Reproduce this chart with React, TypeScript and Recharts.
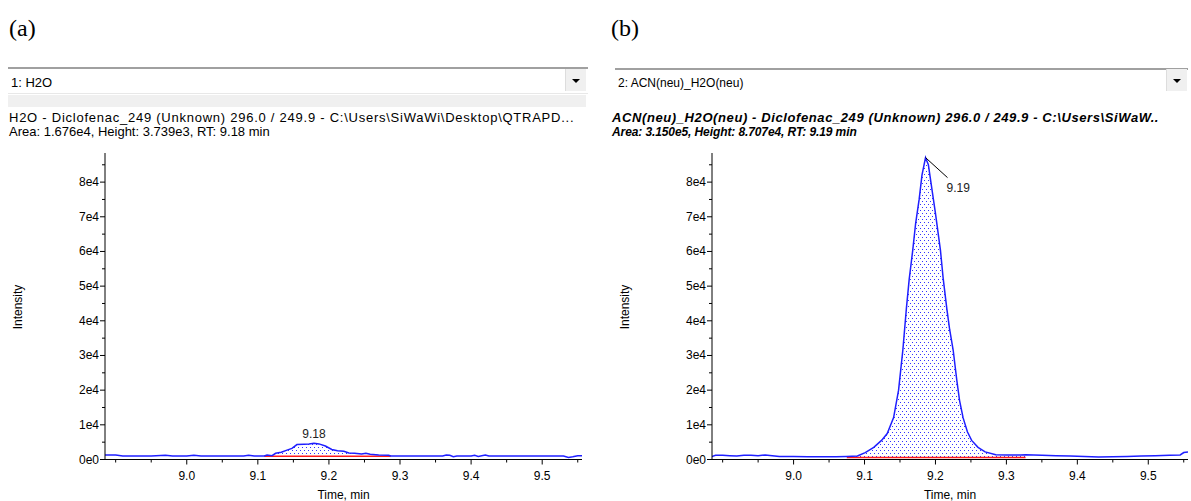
import React from "react";
import { ComposedChart, Line, Area, XAxis, YAxis, ReferenceDot } from "recharts";

const h2oTimes = [
  8.885, 8.9, 8.91, 8.93, 8.95, 8.97, 8.98, 9.0, 9.01, 9.02, 9.04, 9.06, 9.08, 9.087, 9.095,
  9.109, 9.113, 9.12, 9.125, 9.133, 9.141, 9.148, 9.155, 9.165, 9.172, 9.179, 9.186, 9.195,
  9.204, 9.212, 9.221, 9.228, 9.236, 9.246, 9.252, 9.258, 9.27, 9.284, 9.287, 9.3, 9.33,
  9.36, 9.365, 9.37, 9.375, 9.38, 9.4, 9.405, 9.41, 9.42, 9.425, 9.45, 9.5, 9.53, 9.537,
  9.543, 9.55, 9.556,
];
const h2oIntensity = [
  1300, 1300, 1000, 1000, 1000, 1200, 1000, 1000, 1200, 1000, 1000, 1000, 1000, 1200, 1000,
  1000, 1300, 1100, 1800, 2100, 2700, 3200, 4300, 4400, 4500, 4700, 4500, 3900,
  2900, 2500, 2400, 1900, 1800, 1600, 1800, 1500, 1300, 1200, 1000, 1000, 1000,
  1000, 1300, 1200, 800, 1000, 1000, 1200, 900, 1300, 1000, 1000, 1000, 1000, 600,
  800, 1100, 1100,
];

const acnTimes = [
  8.884, 8.89, 8.9, 8.91, 8.92, 8.93, 8.94, 8.95, 8.96, 8.97, 8.98, 9.0, 9.02, 9.04, 9.06,
  9.075, 9.09, 9.101, 9.113, 9.124, 9.132, 9.141, 9.148, 9.154, 9.159, 9.163, 9.168, 9.172,
  9.177, 9.181, 9.186, 9.19, 9.195, 9.2, 9.207, 9.211, 9.216, 9.22, 9.225, 9.23, 9.234,
  9.239, 9.245, 9.251, 9.26, 9.27, 9.285, 9.3, 9.32, 9.327, 9.35, 9.37, 9.39, 9.41, 9.43,
  9.45, 9.47, 9.49, 9.51, 9.53, 9.545, 9.55, 9.556,
];
const acnIntensity = [
  800, 1200, 1200, 1100, 1000, 1200, 1200, 1100, 1300, 1100, 900, 900, 800, 800, 800,
  900, 1000, 2000, 3500, 5500, 7500, 12100, 20000, 31500, 43500, 52000, 60400, 68000,
  75000, 82000, 87070, 85000, 78000, 71000, 60400, 52000, 43500, 37500, 31500, 23000, 17000,
  12000, 8000, 5500, 3500, 2200, 1400, 1300, 1300, 1400, 1200, 1100, 1000, 900, 700,
  800, 900, 1000, 1100, 1200, 1300, 2000, 2200,
];

const yTicks = [0, 5000, 10000, 15000, 20000, 25000, 30000, 35000, 40000, 45000, 50000, 55000, 60000, 65000, 70000, 75000, 80000, 85000];
const xTicks = [8.9, 8.95, 9.0, 9.05, 9.1, 9.15, 9.2, 9.25, 9.3, 9.35, 9.4, 9.45, 9.5, 9.55];
const xDomain = [8.885, 9.556];
const yDomain = [0, 88400];

const h2oRange = [9.109, 9.287];
const acnRange = [9.075, 9.327];

const BLUE = "#1f1fff";
const RED = "#ff1a1a";
const FONT = "'Liberation Sans', Arial, sans-serif";

function buildData(times: number[], vals: number[], range: number[], base: number) {
  return times.map((t, i) => {
    const inside = t >= range[0] - 1e-9 && t <= range[1] + 1e-9;
    return { t, v: vals[i], peak: inside ? vals[i] : null, base: inside ? base : null };
  });
}

const YTick = (props: any) => {
  const { x, y, payload } = props;
  const major = payload.value % 10000 === 0;
  const label = payload.value === 0 ? "0e0" : `${payload.value / 10000}e4`;
  return (
    <g>
      <line x1={x} x2={x - (major ? 5 : 3)} y1={y} y2={y} stroke="#000" />
      {major && (
        <text x={x - 6} y={y} dy={4} textAnchor="end" fontSize={12} fontFamily={FONT} fill="#000">
          {label}
        </text>
      )}
    </g>
  );
};

const XTick = (props: any) => {
  const { x, y, payload } = props;
  const k = Math.round(payload.value * 100);
  const major = k % 10 === 0 && k >= 900;
  return (
    <g>
      <line x1={x} x2={x} y1={y} y2={y + (major ? 5 : 3)} stroke="#000" />
      {major && (
        <text x={x} y={y + 20} textAnchor="middle" fontSize={12} fontFamily={FONT} fill="#000">
          {payload.value.toFixed(1)}
        </text>
      )}
    </g>
  );
};

interface PanelProps {
  id: string;
  data: any[];
  left: number;
  width: number;
  axisWidth: number;
  rightMargin: number;
  base: number;
  apex: { t: number; v: number; label: string };
  leader: boolean;
}

const Panel: React.FC<PanelProps> = ({ id, data, left, width, axisWidth, rightMargin, base, apex, leader }) => (
  <div style={{ position: "absolute", left, top: 0 }}>
    <ComposedChart width={width} height={501} data={data} margin={{ top: 153, right: rightMargin, bottom: 0, left: 0 }}>
      <defs>
        <pattern id={`dots-${id}`} width="4" height="6" patternUnits="userSpaceOnUse">
          <rect width="4" height="6" fill="#ffffff" />
          <rect x="0" y="0" width="1" height="1" fill="#3333ff" />
          <rect x="2" y="3" width="1" height="1" fill="#3333ff" />
        </pattern>
      </defs>
      <XAxis
        dataKey="t"
        type="number"
        domain={xDomain}
        allowDataOverflow
        ticks={xTicks}
        interval={0}
        tickSize={0}
        tickMargin={0}
        tickLine={false}
        tick={<XTick />}
        height={41.5}
        stroke="#000"
        label={{ value: "Time, min", position: "insideBottom", offset: 2, fontSize: 12, fontFamily: FONT, fill: "#000" }}
      />
      <YAxis
        type="number"
        domain={yDomain}
        allowDataOverflow
        ticks={yTicks}
        interval={0}
        tickSize={0}
        tickMargin={0}
        tickLine={false}
        tick={<YTick />}
        width={axisWidth}
        stroke="#000"
      />
      <Area
        dataKey="peak"
        type="linear"
        baseValue={base}
        stroke="none"
        fill={`url(#dots-${id})`}
        fillOpacity={1}
        isAnimationActive={false}
        connectNulls={false}
      />
      <Line dataKey="base" type="linear" stroke={RED} strokeWidth={1.5} dot={false} isAnimationActive={false} />
      <Line dataKey="v" type="linear" stroke={BLUE} strokeWidth={1.5} dot={false} isAnimationActive={false} />
      <ReferenceDot
        x={apex.t}
        y={apex.v}
        r={0}
        shape={(p: any) =>
          leader ? (
            <g>
              <line x1={p.cx} y1={p.cy} x2={p.cx + 22} y2={p.cy + 20} stroke="#000" />
              <text x={p.cx + 21} y={p.cy + 34} fontSize={12} fontFamily={FONT} fill="#222">
                {apex.label}
              </text>
            </g>
          ) : (
            <text x={p.cx} y={p.cy - 5} textAnchor="middle" fontSize={12} fontFamily={FONT} fill="#222">
              {apex.label}
            </text>
          )
        }
      />
    </ComposedChart>
  </div>
);

const Arrow: React.FC<{ left: number }> = ({ left }) => (
  <div
    style={{
      position: "absolute",
      left,
      top: 69,
      width: 20,
      height: 22,
      background: "#f0f0f0",
      borderLeft: "1px solid #ddd",
    }}
  >
    <svg width="20" height="22">
      <polygon points="6,10 14,10 10,14" fill="#000" />
    </svg>
  </div>
);

export default function App() {
  const h2oData = buildData(h2oTimes, h2oIntensity, h2oRange, 950);
  const acnData = buildData(acnTimes, acnIntensity, acnRange, 600);
  const txt: React.CSSProperties = { position: "absolute", fontFamily: FONT, fontSize: 12, color: "#000", whiteSpace: "nowrap", lineHeight: "14px" };
  return (
    <div style={{ position: "absolute", left: 0, top: 0, width: 1191, height: 501, background: "#fff", overflow: "hidden" }}>
      <div style={{ position: "absolute", left: 9, top: 15, fontFamily: "'Liberation Serif', serif", fontSize: 24 }}>(a)</div>
      <div style={{ position: "absolute", left: 611, top: 15, fontFamily: "'Liberation Serif', serif", fontSize: 24 }}>(b)</div>

      {/* selector boxes */}
      <div style={{ position: "absolute", left: 8, top: 67, width: 580, height: 24, borderTop: "2px solid #a0a0a0", borderBottom: "1px solid #e8e8e8" }} />
      <div style={{ ...txt, left: 11, top: 76, fontSize: 13 }}>1: H2O</div>
      <Arrow left={565} />
      <div style={{ position: "absolute", left: 8, top: 95, width: 578, height: 12, background: "#f0f0f0" }} />

      <div style={{ position: "absolute", left: 615, top: 68, width: 573, height: 24, borderTop: "2px solid #a0a0a0" }} />
      <div style={{ ...txt, left: 618, top: 76 }}>2: ACN(neu)_H2O(neu)</div>
      <Arrow left={1166} />

      {/* peak info */}
      <div style={{ ...txt, left: 9, top: 111, fontSize: 13, letterSpacing: 0.75 }}>
        H2O - Diclofenac_249 (Unknown) 296.0 / 249.9 - C:\Users\SiWaWi\Desktop\QTRAPD...
      </div>
      <div style={{ ...txt, left: 9, top: 125, fontSize: 13 }}>Area: 1.676e4, Height: 3.739e3, RT: 9.18 min</div>
      <div style={{ ...txt, left: 612, top: 111, fontSize: 13, fontWeight: "bold", fontStyle: "italic", letterSpacing: 0.6 }}>
        ACN(neu)_H2O(neu) - Diclofenac_249 (Unknown) 296.0 / 249.9 - C:\Users\SiWaW..
      </div>
      <div style={{ ...txt, left: 612, top: 125, fontWeight: "bold", fontStyle: "italic", letterSpacing: -0.1 }}>
        Area: 3.150e5, Height: 8.707e4, RT: 9.19 min
      </div>

      <Panel
        id="a"
        data={h2oData}
        left={0}
        width={600}
        axisWidth={105}
        rightMargin={18}
        base={950}
        apex={{ t: 9.179, v: 4700, label: "9.18" }}
        leader={false}
      />
      <Panel
        id="b"
        data={acnData}
        left={600}
        width={591}
        axisWidth={112}
        rightMargin={3}
        base={600}
        apex={{ t: 9.186, v: 87070, label: "9.19" }}
        leader={true}
      />

      <div style={{ ...txt, left: 18, top: 307, transform: "translate(-50%, -50%) rotate(-90deg)" }}>Intensity</div>
      <div style={{ ...txt, left: 625, top: 307, transform: "translate(-50%, -50%) rotate(-90deg)" }}>Intensity</div>
    </div>
  );
}
